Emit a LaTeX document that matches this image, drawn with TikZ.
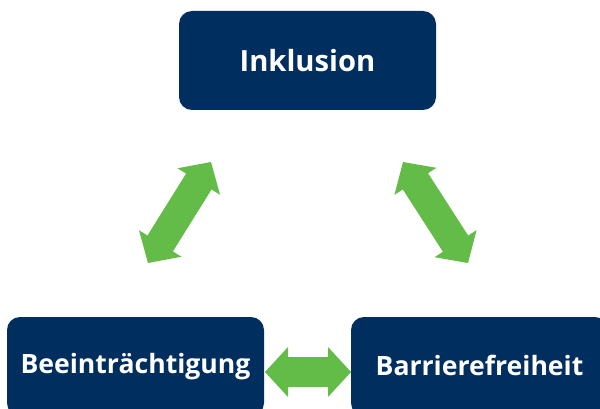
\documentclass[tikz,border=0pt]{standalone}
\usepackage{fontspec}
\setmainfont{Open Sans}
\usetikzlibrary{calc}
\definecolor{navy}{RGB}{0,46,94}
\definecolor{arrowgreen}{RGB}{99,187,72}
\tikzset{
  box/.style={fill=navy, rounded corners=13pt, minimum width=257pt, minimum height=99pt,
    inner sep=0pt, text=white, font=\fontsize{26.6}{30}\selectfont\bfseries},
  topbox/.style={box, font=\fontsize{29.2}{33}\selectfont\bfseries}
}
\newcommand{\dblarr}[2]{%
\fill[arrowgreen] (#1)
 -- ($(#1)!23pt!(#2)!25pt!90:(#2)$)
 -- ($(#1)!23pt!(#2)!15pt!90:(#2)$)
 -- ($(#2)!23pt!(#1)!15pt!-90:(#1)$)
 -- ($(#2)!23pt!(#1)!25pt!-90:(#1)$)
 -- (#2)
 -- ($(#2)!23pt!(#1)!25pt!90:(#1)$)
 -- ($(#2)!23pt!(#1)!15pt!90:(#1)$)
 -- ($(#1)!23pt!(#2)!15pt!-90:(#2)$)
 -- ($(#1)!23pt!(#2)!25pt!-90:(#2)$)
 -- cycle;}
\begin{document}
\begin{tikzpicture}[x=1pt,y=-1pt]
\useasboundingbox (0,0) rectangle (600,409);
\clip (0,0) rectangle (600,409);
\node[topbox] (ink) at (307.5,60.5) {Inklusion};
\node[box] (bee) at (135.5,366.5) {\raisebox{3pt}{Beeinträchtigung}};
\node[box] (bar) at (479.5,366.5) {\raisebox{3pt}{Barrierefreiheit}};
\coordinate (l1) at (148,263);
\coordinate (l2) at (211,162);
\coordinate (r1) at (403,162);
\coordinate (r2) at (468,263);
\coordinate (h1) at (265,372);
\coordinate (h2) at (351,372);
\dblarr{l1}{l2}
\dblarr{r1}{r2}
\dblarr{h1}{h2}
\end{tikzpicture}
\end{document}
